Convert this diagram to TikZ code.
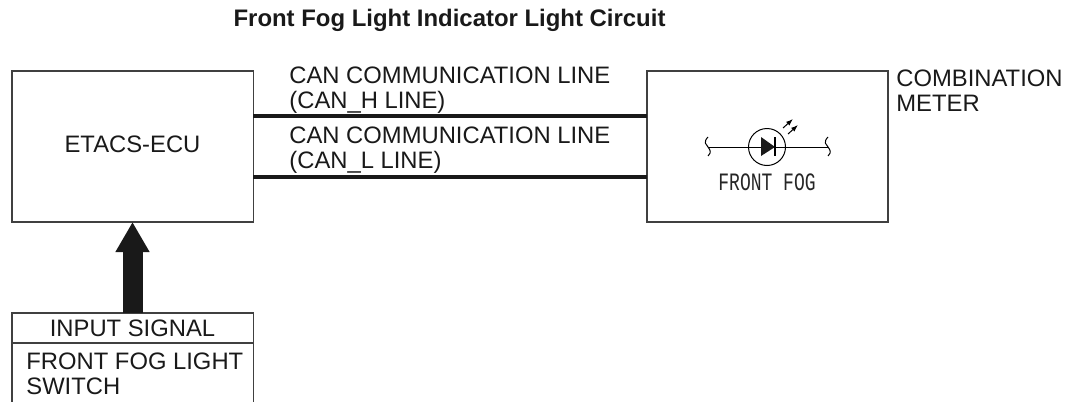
\documentclass[tikz,border=0pt]{standalone}
\usepackage{fontspec}
\setmainfont{Liberation Sans}
\newfontfamily\narrowfont{Liberation Mono}
\usetikzlibrary{arrows.meta,calc,positioning}
\tikzset{>=latex}
\tikzset{font=\fontsize{11.9}{12.3}\selectfont}
\tikzset{box/.style={draw=black!75, line width=0.75pt, inner sep=0pt, outer sep=0pt},
  wire/.style={line width=1.75pt, black!90},
  lbl/.style={align=left, anchor=base west, inner sep=0pt, text=black!90},
  lamp/.style={line width=0.5pt, black}}

\begin{document}
\begin{tikzpicture}[x=0.5pt,y=-0.5pt]
  \useasboundingbox (0,0) rectangle (1071,402);
  \node[font=\fontsize{11.96}{12.3}\selectfont\bfseries, anchor=base, inner sep=0pt, text=black!90] (title) at (449.5,26) {Front Fog Light Indicator Light Circuit};
  % control unit and meter
  \node[box, minimum width=120.75pt, minimum height=75.5pt, text depth=2pt, text=black!90] (etacs) at (132.5,146.5) {ETACS-ECU\hspace{2pt}};
  \node[box, minimum width=120.5pt, minimum height=75.5pt] (meter) at (767.5,146.5) {};
  \node[lbl] (meterlbl) at (896,111) {COMBINATION\\METER};
  % can lines
  \coordinate (hleft) at (253,116);
  \coordinate (hright) at (647,116);
  \coordinate (lleft) at (253,177);
  \coordinate (lright) at (647,177);
  \draw[wire] (hleft) -- (hright);
  \draw[wire] (lleft) -- (lright);
  \node[lbl] (canh) at (289,108) {CAN COMMUNICATION LINE\\(CAN\_H LINE)};
  \node[lbl] (canl) at (289,168) {CAN COMMUNICATION LINE\\(CAN\_L LINE)};
  % input signal
  \node[box, minimum width=120.75pt, minimum height=15pt, text=black!90] (signal) at (132.5,328) {INPUT SIGNAL};
  \node[lbl] (switch) at (26,394) {FRONT FOG LIGHT\\SWITCH};
  \coordinate (botleft) at (signal.south west |- 0,402);
  \coordinate (botright) at (signal.south east |- 0,402);
  \draw[box] (signal.south west) -- (botleft);
  \draw[box] (signal.south east) -- (botright);
  \draw[line width=10pt, black!90, -{Triangle[length=15pt,width=16pt]}] (signal.north) -- (etacs.south);
  % lamp symbol
  \node[circle, draw, lamp, minimum size=18.5pt, inner sep=0pt] (led) at (767,147) {};
  \coordinate (wl) at (708,147);
  \coordinate (wr) at (828,147);
  \draw[lamp] (wl) -- (led.west);
  \draw[lamp] (led.east) -- (wr);
  \draw[lamp] (led.west) -- (led.east);
  \draw[lamp] (708,137) .. controls (703,142) and (706,145) .. (708,147) .. controls (710,150) and (712,152) .. (708,156);
  \draw[lamp] (828,137) .. controls (823,142) and (826,145) .. (828,147) .. controls (830,150) and (832,152) .. (828,156);
  \fill[black!90] (761,137) -- (775,147) -- (761,156) -- cycle;
  \draw[line width=0.7pt] (775,137) -- (775,156);
  \foreach \y in {0,1}
    \draw[lamp, -{Latex[length=3.5pt,width=2.5pt]}] ($(783,128)+(\y*5,\y*6)$) -- ++(10,-9);
  \node[font=\fontsize{12.5}{13}\narrowfont, xscale=0.72, inner sep=0pt, text=black!85] (ledlbl) at (767,182) {FRONT FOG};
\end{tikzpicture}
\end{document}
